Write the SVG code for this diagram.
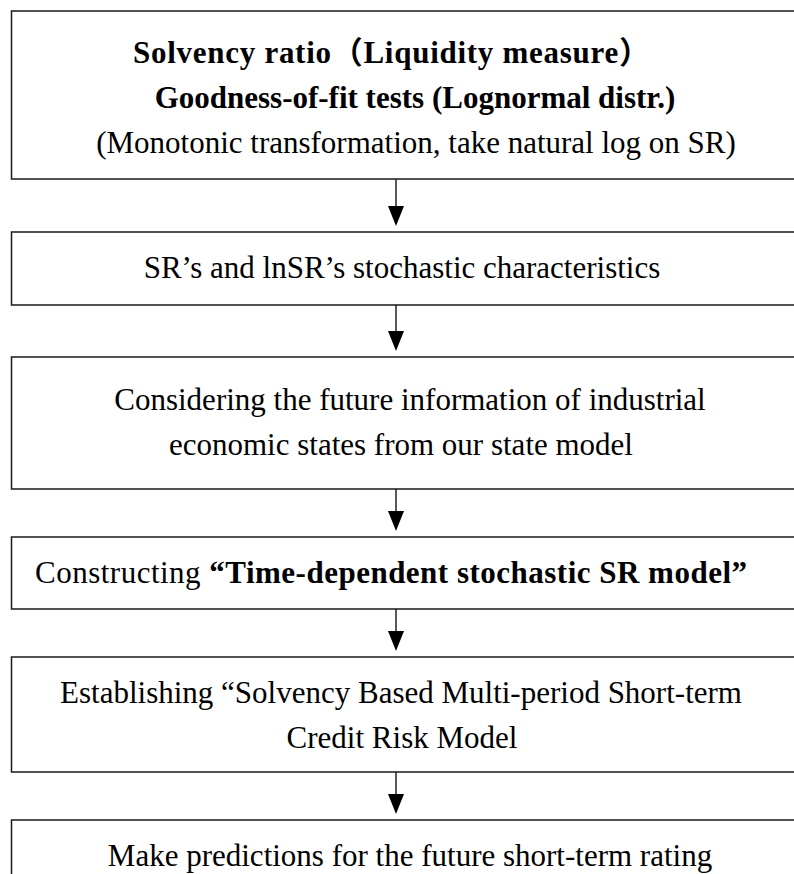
<svg xmlns="http://www.w3.org/2000/svg" width="794" height="874" viewBox="0 0 794 874">
<style>
.box{fill:#fff;stroke:#1a1a1a;stroke-width:1.5}
.t{font-family:"Liberation Serif","Times New Roman","Noto Sans CJK SC",serif;font-size:31px;fill:#000}
.b{font-weight:bold}
.c{text-anchor:middle}
.ln{stroke:#000;stroke-width:1.3;fill:none}
.ah{fill:#000}
</style>
<rect width="794" height="874" fill="#fff"/>
<g id="connectors">
<line class="ln" x1="396" y1="179" x2="396" y2="210"/>
<path class="ah" d="M388,206 L404,206 L396,226 Z"/>
<line class="ln" x1="396" y1="305" x2="396" y2="335"/>
<path class="ah" d="M388,331 L404,331 L396,351 Z"/>
<line class="ln" x1="396" y1="489" x2="396" y2="515"/>
<path class="ah" d="M388,511 L404,511 L396,531 Z"/>
<line class="ln" x1="396" y1="609" x2="396" y2="635"/>
<path class="ah" d="M388,631 L404,631 L396,651 Z"/>
<line class="ln" x1="396" y1="772" x2="396" y2="798"/>
<path class="ah" d="M388,794 L404,794 L396,814 Z"/>
</g>
<g id="n1">
<rect class="box" x="11.5" y="11" width="800" height="168"/>
<text class="t b" x="133" y="63" textLength="517" lengthAdjust="spacing">Solvency ratio（Liquidity measure）</text>
<text class="t b c" x="415" y="108">Goodness-of-fit tests (Lognormal distr.)</text>
<text class="t c" x="416" y="153">(Monotonic transformation, take natural log on SR)</text>
</g>
<g id="n2">
<rect class="box" x="11.5" y="232" width="800" height="73"/>
<text class="t c" x="402" y="278">SR’s and lnSR’s stochastic characteristics</text>
</g>
<g id="n3">
<rect class="box" x="11.5" y="357" width="800" height="132"/>
<text class="t c" x="410" y="410">Considering the future information of industrial</text>
<text class="t c" x="401" y="455">economic states from our state model</text>
</g>
<g id="n4">
<rect class="box" x="11.5" y="537" width="800" height="72"/>
<text class="t" x="35" y="583" textLength="712" lengthAdjust="spacing">Constructing <tspan class="b">“Time-dependent stochastic SR model”</tspan></text>
</g>
<g id="n5">
<rect class="box" x="11.5" y="657" width="800" height="115"/>
<text class="t c" x="401" y="703">Establishing “Solvency Based Multi-period Short-term</text>
<text class="t c" x="402" y="748">Credit Risk Model</text>
</g>
<g id="n6">
<rect class="box" x="11.5" y="820" width="800" height="80"/>
<text class="t c" x="410" y="866" font-size="31.6">Make predictions for the future short-term rating</text>
</g>
</svg>
